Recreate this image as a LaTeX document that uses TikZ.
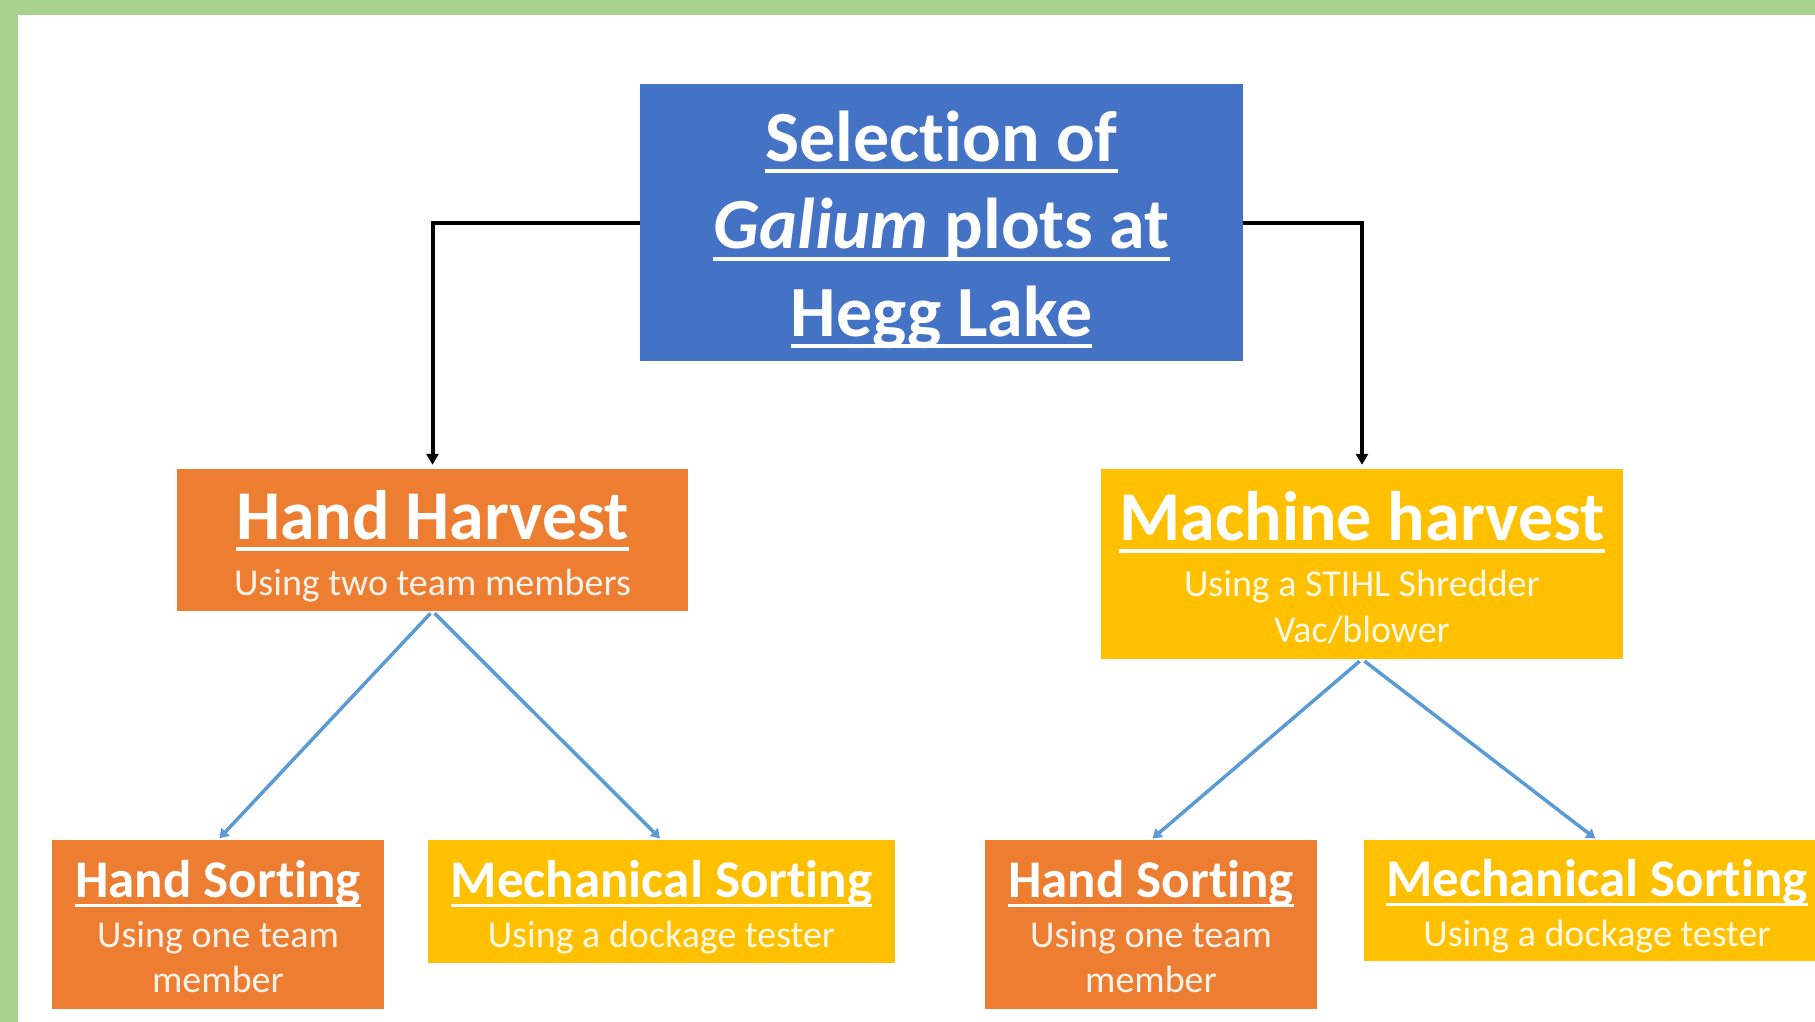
\documentclass[tikz,border=0pt]{standalone}
\usepackage{fontspec}
\setmainfont{Carlito}[Ligatures=NoCommon]
\usetikzlibrary{arrows.meta}
\definecolor{framegreen}{HTML}{A9D18E}
\definecolor{topblue}{HTML}{4472C4}
\definecolor{orng}{HTML}{ED7D31}
\definecolor{gold}{HTML}{FFC000}
\definecolor{linkblue}{HTML}{5B9BD5}
\newlength\ulw
\newcommand\ulx[1]{\settowidth\ulw{#1}\makebox[0pt][l]{\rule[-0.17em]{\ulw}{0.055em}}#1}
\tikzset{
  boxnode/.style={rectangle, inner sep=0pt},
  txtnode/.style={inner sep=0pt, align=center, text=white},
  topfont/.style={font=\fontsize{72}{87.5}\selectfont\bfseries},
  subfont/.style={font=\fontsize{38}{46}\selectfont},
  botfont/.style={font=\fontsize{38}{45}\selectfont},
  blackarrow/.style={draw=black, line width=4pt, -{Triangle[length=11pt,width=12pt]}},
  bluearrow/.style={draw=linkblue, line width=3.5pt, -{Triangle[length=9pt,width=11pt]}, shorten <=3pt, shorten >=2pt}
}
\newcommand\bigtitle[1]{{\fontsize{70}{70}\selectfont\bfseries\ulx{#1}}}
\newcommand\smalltitle[1]{{\fontsize{53}{53}\selectfont\bfseries\ulx{#1}}}
\begin{document}
\begin{tikzpicture}[x=1pt,y=-1pt]
\useasboundingbox (0,0) rectangle (1815,1022);
\clip (0,0) rectangle (1815,1022);
\fill[framegreen] (0,0) rectangle (1815,15);
\fill[framegreen] (0,0) rectangle (18,1022);

% boxes
\node[boxnode, fill=topblue, minimum width=603pt, minimum height=277pt] (top) at (941.5,222.5) {};
\node[boxnode, fill=orng, minimum width=511pt, minimum height=142pt] (hh) at (432.5,540) {};
\node[boxnode, fill=gold, minimum width=522pt, minimum height=190pt] (mh) at (1362,564) {};
\node[boxnode, fill=orng, minimum width=332pt, minimum height=169pt] (hsl) at (218,924.5) {};
\node[boxnode, fill=gold, minimum width=467pt, minimum height=123pt] (msl) at (661.5,901.5) {};
\node[boxnode, fill=orng, minimum width=332pt, minimum height=169pt] (hsr) at (1151,924.5) {};
\node[boxnode, fill=gold, minimum width=466pt, minimum height=121pt] (msr) at (1597,900.5) {};

% texts
\node[txtnode, topfont] (toptxt) at ([yshift=-7pt]top.center)
  {\ulx{Selection of}\\ \ulx{\textit{Galium} plots at}\\ \ulx{Hegg Lake}};
\node[txtnode, subfont] (hhtxt) at ([yshift=-6pt]hh.center)
  {\bigtitle{Hand Harvest}\\[10pt] {\color{white!90!orng}Using two team members}};
\node[txtnode, subfont] (mhtxt) at ([yshift=-4pt]mh.center)
  {\bigtitle{Machine harvest}\\[10pt] {\color{white!90!gold}Using a STIHL Shredder}\\ {\color{white!90!gold}Vac/blower}};
\node[txtnode, botfont] (hsltxt) at ([yshift=-2.5pt]hsl.center)
  {\smalltitle{Hand Sorting}\\[5pt] {\color{white!90!orng}Using one team}\\ {\color{white!90!orng}member}};
\node[txtnode, botfont] (msltxt) at ([yshift=-6pt]msl.center)
  {\smalltitle{Mechanical Sorting}\\[5pt] {\color{white!90!gold}Using a dockage tester}};
\node[txtnode, botfont] (hsrtxt) at ([yshift=-2.5pt]hsr.center)
  {\smalltitle{Hand Sorting}\\[5pt] {\color{white!90!orng}Using one team}\\ {\color{white!90!orng}member}};
\node[txtnode, botfont] (msrtxt) at ([yshift=-6pt]msr.center)
  {\smalltitle{Mechanical Sorting}\\[5pt] {\color{white!90!gold}Using a dockage tester}};

% connectors
\draw[blackarrow] (top.west) -| ([yshift=4pt]hh.north);
\draw[blackarrow] (top.east) -| ([yshift=4pt]mh.north);

\draw[bluearrow] (hh.south) -- (hsl.north);
\draw[bluearrow] (hh.south) -- (msl.north);
\draw[bluearrow] (mh.south) -- (hsr.north);
\draw[bluearrow] (mh.south) -- (msr.north);
\end{tikzpicture}
\end{document}
